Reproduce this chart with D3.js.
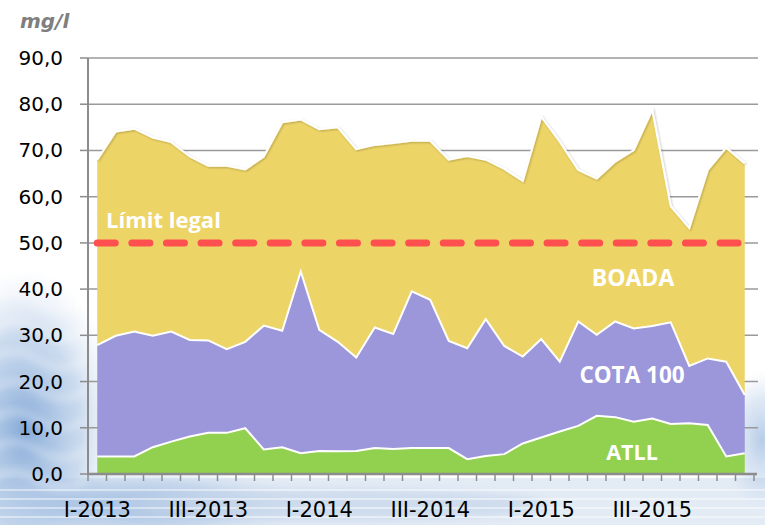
<!DOCTYPE html>
<html><head><meta charset="utf-8">
<script src="https://cdn.jsdelivr.net/npm/d3@7"></script>
<style>html,body{margin:0;padding:0;background:#fff;}svg{display:block;}</style>
</head><body>
<svg id="chart" width="765" height="525"></svg>
<script>
const months = ["2013-01","2013-02","2013-03","2013-04","2013-05","2013-06","2013-07","2013-08","2013-09","2013-10","2013-11","2013-12",
"2014-01","2014-02","2014-03","2014-04","2014-05","2014-06","2014-07","2014-08","2014-09","2014-10","2014-11","2014-12",
"2015-01","2015-02","2015-03","2015-04","2015-05","2015-06","2015-07","2015-08","2015-09","2015-10","2015-11","2015-12"];
const tickLabels = ["I-2013","III-2013","I-2014","III-2014","I-2015","III-2015"];
const tickMonths = ["2013-01","2013-07","2014-01","2014-07","2015-01","2015-07"];
const yTicks = [0,10,20,30,40,50,60,70,80,90];
const seriesNames = ["ATLL","COTA 100","BOADA"];
const atll = [3.8,3.8,3.8,5.8,7.0,8.1,8.9,8.9,9.9,5.3,5.8,4.5,5.0,4.9,5.0,5.6,5.4,5.6,5.6,5.6,3.2,3.9,4.3,6.6,7.9,9.2,10.4,12.6,12.3,11.3,12.0,10.8,11.0,10.6,3.8,4.5];
const cota100 = [24.1,26.1,27.0,24.1,23.8,20.9,20.0,18.1,18.7,26.8,25.2,39.3,26.2,23.7,20.2,26.1,24.9,33.9,32.1,23.2,24.0,29.6,23.4,18.8,21.3,15.1,22.6,17.5,20.7,20.2,20.0,22.0,12.4,14.4,20.5,12.6];
const boada = [40.1,44.2,43.9,42.9,41.0,39.7,37.8,39.7,37.3,36.6,45.1,32.9,43.4,46.4,45.1,39.5,41.3,32.6,34.4,39.2,41.6,34.5,38.3,38.0,48.1,47.6,32.8,33.8,34.6,38.6,46.8,25.1,29.8,40.8,46.3,50.1];
const legalLimit = 50;
const limitLabel = "Límit legal";
const unitLabel = "mg/l";

const colors = {"ATLL":"#92D050","COTA 100":"#9B97DA","BOADA":"#EDD467"};

const svg = d3.select("#chart");
const defs = svg.append("defs");

// decorative watery background
const rg = defs.append("radialGradient").attr("id","water").attr("cx","0.5").attr("cy","0.5").attr("r","0.5");
rg.append("stop").attr("offset","0%").attr("stop-color","#7fa6d6").attr("stop-opacity",0.95);
rg.append("stop").attr("offset","60%").attr("stop-color","#a9c3e3").attr("stop-opacity",0.6);
rg.append("stop").attr("offset","100%").attr("stop-color","#c9daee").attr("stop-opacity",0);
const blur = defs.append("filter").attr("id","blur").attr("x","-50%").attr("y","-50%").attr("width","200%").attr("height","200%");
blur.append("feGaussianBlur").attr("stdDeviation",4);
const bg = svg.append("g");
bg.append("rect").attr("x",0).attr("y",478).attr("width",765).attr("height",47).attr("fill","#e3ebf5");
bg.append("ellipse").attr("cx",25).attr("cy",430).attr("rx",95).attr("ry",160).attr("fill","url(#water)");
bg.append("ellipse").attr("cx",140).attr("cy",505).attr("rx",170).attr("ry",38).attr("fill","url(#water)").attr("opacity",0.8);
bg.append("ellipse").attr("cx",762).attr("cy",440).attr("rx",40).attr("ry",70).attr("fill","url(#water)").attr("opacity",0.6);
bg.append("ellipse").attr("cx",330).attr("cy",505).attr("rx",220).attr("ry",16).attr("fill","#c6d6ea").attr("filter","url(#blur)").attr("opacity",0.7);
for (let k=0;k<7;k++){
  bg.append("path").attr("d",`M-10,${300+k*30} q24,-16 48,0 t48,0`).attr("fill","none").attr("stroke","#ffffff").attr("stroke-opacity",0.7).attr("stroke-width",3).attr("filter","url(#blur)");
}
for (let k=0;k<4;k++){
  bg.append("line").attr("x1",0).attr("x2",765).attr("y1",490+k*9).attr("y2",490+k*9).attr("stroke","#ffffff").attr("stroke-opacity",0.6).attr("stroke-width",1.5);
}

const x = d3.scaleBand().domain(months).range([88,754]).padding(0);
const cx = m => x(m) + x.bandwidth()/2;
const y = d3.scaleLinear().domain([0,90]).range([474,58]);

// gridlines
svg.append("g").selectAll("line").data(yTicks.filter(d=>d>0)).join("line")
  .attr("x1",88).attr("x2",758).attr("y1",d=>y(d)).attr("y2",d=>y(d))
  .attr("stroke","#9a9a9a").attr("stroke-width",1.5);

// stacked areas
const table = months.map((m,i)=>({month:m,"ATLL":atll[i],"COTA 100":cota100[i],"BOADA":boada[i]}));
const stack = d3.stack().keys(seriesNames)(table);
const area = d3.area().x(d=>cx(d.data.month)).y0(d=>y(d[0])).y1(d=>y(d[1]));
const topLine = d3.line().x(d=>cx(d.data.month)).y(d=>y(d[1]));

const shadow = defs.append("filter").attr("id","glow").attr("x","-5%").attr("y","-5%").attr("width","110%").attr("height","110%");
shadow.append("feGaussianBlur").attr("in","SourceAlpha").attr("stdDeviation",1.2).attr("result","b");
shadow.append("feOffset").attr("dx",0.5).attr("dy",0.5).attr("result","o");
shadow.append("feComponentTransfer").append("feFuncA").attr("type","linear").attr("slope",0.25);
const mg = shadow.append("feMerge");
mg.append("feMergeNode");
mg.append("feMergeNode").attr("in","SourceGraphic");

const ag = svg.append("g");
ag.selectAll("path.area").data(stack).join("path").attr("class","area")
  .attr("d",area).attr("fill",d=>colors[d.key]);
ag.selectAll("path.edge").data(stack).join("path").attr("class","edge")
  .attr("d",topLine).attr("fill","none").attr("stroke","#ffffff").attr("stroke-width",2)
  .attr("filter",d=>d.key==="BOADA"?"url(#glow)":null);

// legal limit line
svg.append("line")
  .attr("x1",cx(months[0])).attr("x2",cx(months[months.length-1]))
  .attr("y1",y(legalLimit)).attr("y2",y(legalLimit))
  .attr("stroke","#FF5050").attr("stroke-width",7).attr("stroke-linecap","round")
  .attr("stroke-dasharray","18,16.6");

// axes
const axisColor = "#8c8c8c";
svg.append("line").attr("x1",88).attr("x2",88).attr("y1",58).attr("y2",475).attr("stroke",axisColor).attr("stroke-width",2);
svg.append("line").attr("x1",87).attr("x2",757).attr("y1",474).attr("y2",474).attr("stroke",axisColor).attr("stroke-width",2.5);
svg.append("g").selectAll("line").data(yTicks).join("line")
  .attr("x1",80).attr("x2",88).attr("y1",d=>y(d)).attr("y2",d=>y(d)).attr("stroke",axisColor).attr("stroke-width",1.5);
const bounds = months.map(m=>x(m)).concat([x(months[months.length-1])+x.bandwidth()]);
svg.append("g").selectAll("line").data(bounds).join("line")
  .attr("x1",d=>d).attr("x2",d=>d).attr("y1",474).attr("y2",481).attr("stroke",axisColor).attr("stroke-width",1.5);

const fmt = d => d3.format(".1f")(d).replace(".",",");
svg.append("g").selectAll("text").data(yTicks).join("text")
  .attr("x",63).attr("y",d=>y(d)+7).attr("text-anchor","end")
  .attr("font-family","DejaVu Sans").attr("font-size",20).attr("fill","#000")
  .text(fmt);

svg.append("g").selectAll("text").data(tickMonths).join("text")
  .attr("x",(m)=>cx(m)).attr("y",517).attr("text-anchor","middle")
  .attr("font-family","DejaVu Sans").attr("font-size",21).attr("fill","#000")
  .text((m,i)=>tickLabels[i]);

svg.append("text").attr("x",20).attr("y",28)
  .attr("font-family","DejaVu Sans").attr("font-weight","bold").attr("font-style","italic")
  .attr("font-size",20).attr("fill","#7f7f7f").text(unitLabel);

svg.append("text").attr("x",106).attr("y",228)
  .attr("font-family","Open Sans").attr("font-weight","bold").attr("font-size",22).attr("fill","#fff")
  .text(limitLabel);

const lbl = [["BOADA",633,286,23],["COTA 100",632,383,22.5],["ATLL",632,460,21.5]];
svg.append("g").selectAll("text").data(lbl).join("text")
  .attr("x",d=>d[1]).attr("y",d=>d[2]).attr("text-anchor","middle")
  .attr("font-family","Open Sans").attr("font-weight","bold").attr("font-size",d=>d[3]).attr("fill","#fff")
  .text(d=>d[0]);
</script>
</body></html>
